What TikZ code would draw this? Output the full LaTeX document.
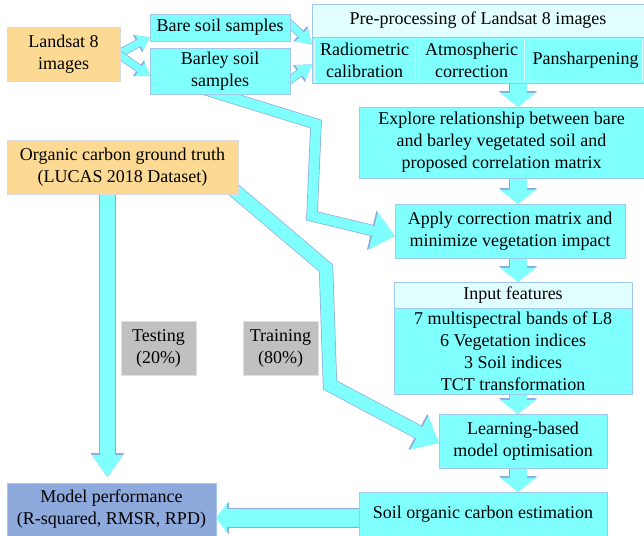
\documentclass[tikz,border=0pt]{standalone}
\usepackage{fontspec}
\setmainfont{Liberation Serif}
\usetikzlibrary{arrows.meta,positioning,backgrounds}

\definecolor{cyanfill}{RGB}{128,255,255}
\definecolor{palefill}{RGB}{226,255,255}
\definecolor{boxline}{RGB}{160,200,235}
\definecolor{orangefill}{RGB}{253,218,148}
\definecolor{grayfill}{RGB}{192,192,192}
\definecolor{bluefill}{RGB}{142,169,219}
\definecolor{arrowline}{RGB}{143,170,220}

\begin{document}
\begin{tikzpicture}[x=1pt,y=-1pt,
    every node/.style={font=\fontsize{18}{22}\selectfont, align=center, inner sep=0pt},
    stepbox/.style={rectangle, draw=boxline, fill=cyanfill},
    headbox/.style={rectangle, draw=boxline, fill=palefill},
    subbox/.style={rectangle, draw=palefill, fill=cyanfill},
    sourcebox/.style={rectangle, draw=black!15, fill=orangefill},
    splitbox/.style={rectangle, draw=black!12, fill=grayfill},
    resultbox/.style={rectangle, draw=boxline, fill=bluefill},
    fat/.style n args={3}{draw=cyanfill, line width=#1pt, line join=miter,
      -{Triangle[width=#2pt, length=#3pt, line width=0pt]},
      preaction={draw=arrowline, line width=#1pt+1.4pt, line join=miter,
        -{Triangle[width=#2pt+2.6pt, length=#3pt+1.8pt, line width=0pt]}}}]
   \useasboundingbox (0,0) rectangle (644,535);

   % inputs
   \node[sourcebox, minimum width=113pt, minimum height=54pt] (landsat) at (63.5,54) {Landsat 8\\images};
   \node[stepbox, minimum width=140pt, minimum height=27pt] (bare) at (220,27.5) {Bare soil samples};
   \node[stepbox, minimum width=140pt, minimum height=46pt] (barley) at (220,71) {Barley soil\\samples};
   \node[sourcebox, minimum width=231pt, minimum height=54pt] (truth) at (122.5,167) {Organic carbon ground truth\\(LUCAS 2018 Dataset)};

   % pre-processing
   \node[headbox, minimum width=332pt, minimum height=33pt] (prehead) at (478,20.5) {Pre-processing of Landsat 8 images};
   \node[stepbox, minimum width=332pt, minimum height=46pt, below=0pt of prehead] (prebody) {};
   \node[subbox, minimum width=101pt, minimum height=42pt] (radio) at (364.5,60) {Radiometric\\calibration};
   \node[subbox, minimum width=105pt, minimum height=42pt] (atmo) at (471.5,60) {Atmospheric\\correction};
   \node[subbox, minimum width=113pt, minimum height=42pt] (pan) at (585.5,60) {Pansharpening};

   % main chain
   \node[stepbox, minimum width=285pt, minimum height=71pt] (explore) at (501.5,142.5) {Explore relationship between bare\\and barley vegetated soil and\\proposed correlation matrix};
   \node[stepbox, minimum width=230pt, minimum height=54pt] (apply) at (510,231) {Apply correction matrix and\\minimize vegetation impact};
   \node[headbox, minimum width=238pt, minimum height=26pt] (inhead) at (513,295) {Input features};
   \node[stepbox, minimum width=238pt, minimum height=86pt, below=0pt of inhead] (inbody) {7 multispectral bands of L8\\6 Vegetation indices\\3 Soil indices\\TCT transformation};
   \node[stepbox, minimum width=168pt, minimum height=54pt] (learning) at (523,441) {Learning-based\\model optimisation};
   \node[stepbox, minimum width=248pt, minimum height=44pt] (estimate) at (483,514) {Soil organic carbon estimation};

   % split and evaluation
   \node[splitbox, minimum width=75pt, minimum height=54pt] (testing) at (158.5,348) {Testing\\(20\%)};
   \node[splitbox, minimum width=75pt, minimum height=54pt] (training) at (280.5,348) {Training\\(80\%)};
   \node[resultbox, minimum width=209pt, minimum height=53pt] (perf) at (111.5,509.5) {Model performance\\(R-squared, RMSR, RPD)};

   \coordinate (spine) at (518,0);
   \coordinate (gtend) at (107.5,477);
   \coordinate (outrow) at (0,518);
   \coordinate (b1) at (316,124);
   \coordinate (b2) at (312,216);
   \coordinate (t1) at (326,268);
   \coordinate (t2) at (330,385);

   \begin{pgfonlayer}{background}
   \draw[fat={7}{17}{12}] ([xshift=-2pt]landsat.east) -- ([yshift=4pt]bare.south west);
   \draw[fat={7}{17}{12}] ([xshift=-2pt]landsat.east) -- ([yshift=-5pt]barley.west);
   \draw[fat={7}{18}{14}] ([xshift=-6pt,yshift=9pt]bare.east) -- ([yshift=16pt]prebody.west);
   \draw[fat={7}{18}{14}] ([xshift=-6pt,yshift=-13pt]barley.east) -- ([yshift=-4pt]prebody.west);
   \draw[fat={17}{36}{14}] (prebody.south -| spine) -- (explore.north -| spine);
   \draw[fat={17}{36}{14}] (explore.south -| spine) -- (apply.north -| spine);
   \draw[fat={17}{36}{14}] (apply.south -| spine) -- (inhead.north -| spine);
   \draw[fat={17}{36}{14}] (inbody.south -| spine) -- (learning.north -| spine);
   \draw[fat={17}{36}{14}] (learning.south -| spine) -- (estimate.north -| spine);
   \draw[fat={10}{38}{22}] ([xshift=-29pt,yshift=9pt]barley.south) -- (b1) -- (b2) -- ([yshift=-5pt]apply.west);
   \draw[fat={13}{38}{22}] ([xshift=-16pt,yshift=-13pt]truth.east) -- (t1) -- (t2) -- ([yshift=-2pt]learning.west);
   \draw[fat={15}{31}{22}] (truth.south -| gtend) -- (gtend);
   \draw[fat={18}{30}{11}] (estimate.west |- outrow) -- (perf.east |- outrow);
   \end{pgfonlayer}
\end{tikzpicture}
\end{document}
